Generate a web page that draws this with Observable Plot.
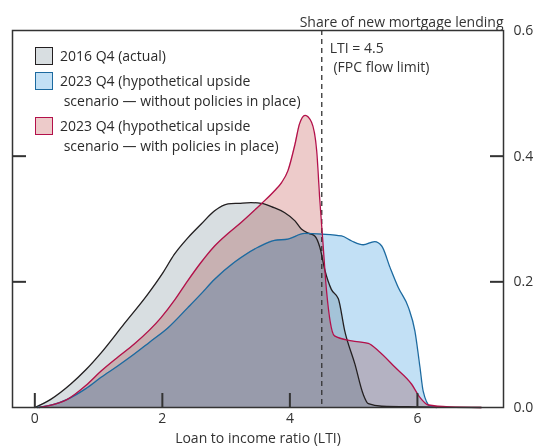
<!DOCTYPE html>
<html>
<head>
<meta charset="utf-8">
<script src="https://cdn.jsdelivr.net/npm/d3@7"></script>
<script src="https://cdn.jsdelivr.net/npm/@observablehq/plot@0.6"></script>
<style>
  html, body { margin: 0; padding: 0; background: #fff; }
  #wrap { position: relative; width: 534px; height: 448px; font-family: "Open Sans", sans-serif; color: #2a2a2a; }
  .leg { position: absolute; font-size: 14px; line-height: 19.5px; white-space: pre; }
  .sw { position: absolute; width: 16px; height: 16px; border: 1.5px solid; }
</style>
</head>
<body>
<div id="wrap"></div>
<script>
// ---- data ----
const yTitle = "Share of new mortgage lending";
const xTitle = "Loan to income ratio (LTI)";
const seriesNames = [
  "2016 Q4 (actual)",
  "2023 Q4 (hypothetical upside\n scenario \u2014 without policies in place)",
  "2023 Q4 (hypothetical upside\n scenario \u2014 with policies in place)"
];
const limitLTI = 4.5;
const limitLabel = "LTI = 4.5\n (FPC flow limit)";
const xTicks = [0, 2, 4, 6];
const yTicks = [0, 0.2, 0.4, 0.6];

const actualLTI   = [0, 0.25, 0.56, 0.8, 1.04, 1.4, 1.77, 2.0, 2.19, 2.4, 2.61, 2.82, 3.03, 3.2, 3.39, 3.55, 3.75, 3.92, 4.08, 4.18, 4.3, 4.39, 4.47, 4.55, 4.65, 4.76, 4.86, 5.02, 5.15, 5.23, 5.44, 6.0, 7.0];
const actualShare = [0, 0.013, 0.037, 0.06, 0.087, 0.133, 0.18, 0.213, 0.244, 0.27, 0.292, 0.313, 0.324, 0.325, 0.326, 0.325, 0.318, 0.31, 0.297, 0.284, 0.277, 0.273, 0.255, 0.218, 0.188, 0.173, 0.122, 0.069, 0.021, 0.006, 0.002, 0.001, 0];

const withoutLTI   = [0.04, 0.3, 0.51, 0.8, 1.04, 1.3, 1.56, 1.8, 2.09, 2.4, 2.6, 2.82, 3.13, 3.5, 3.76, 3.97, 4.23, 4.5, 4.81, 4.97, 5.15, 5.33, 5.44, 5.57, 5.7, 5.86, 5.96, 6.04, 6.09, 6.2, 6.3];
const withoutShare = [0, 0.005, 0.013, 0.03, 0.048, 0.066, 0.085, 0.104, 0.127, 0.159, 0.18, 0.204, 0.231, 0.255, 0.266, 0.268, 0.277, 0.276, 0.273, 0.265, 0.259, 0.264, 0.257, 0.223, 0.191, 0.159, 0.122, 0.064, 0.026, 0.002, 0];

const withLTI   = [0.07, 0.3, 0.51, 0.8, 1.04, 1.3, 1.56, 1.98, 2.2, 2.4, 2.6, 2.82, 3.03, 3.24, 3.55, 3.76, 3.87, 3.97, 4.08, 4.15, 4.24, 4.34, 4.42, 4.47, 4.52, 4.57, 4.63, 4.7, 4.97, 5.23, 5.39, 5.65, 5.91, 6.04, 6.17, 6.5, 7.0];
const withShare = [0, 0.005, 0.013, 0.035, 0.058, 0.08, 0.101, 0.143, 0.172, 0.202, 0.23, 0.257, 0.277, 0.295, 0.324, 0.345, 0.358, 0.377, 0.419, 0.451, 0.465, 0.454, 0.409, 0.329, 0.26, 0.191, 0.138, 0.114, 0.106, 0.102, 0.09, 0.064, 0.037, 0.016, 0.004, 0.001, 0];

const fills   = ["#d8dee1", "#c2e0f5", "#edcbca"];
const strokes = ["#231f20", "#1c6aa0", "#b3104a"];

// ---- build tables ----
const toRows = (xs, ys) => xs.map((x, i) => ({x, y: ys[i]}));
const actual  = toRows(actualLTI, actualShare);
const without = toRows(withoutLTI, withoutShare);
const withP   = toRows(withLTI, withShare);
const sets = [actual, without, withP];

const curve = "monotone-x";
const marks = [];
sets.forEach((d, i) => marks.push(Plot.areaY(d, {x: "x", y: "y", fill: fills[i], curve, mixBlendMode: "multiply"})));
marks.push(Plot.ruleX([limitLTI], {stroke: "#333", strokeWidth: 1.3, strokeDasharray: "5,4"}));
sets.forEach((d, i) => marks.push(Plot.lineY(d, {x: "x", y: "y", stroke: strokes[i], strokeWidth: 1.3, curve})));
marks.push(
  Plot.frame({stroke: "#333", strokeWidth: 1.5}),
  Plot.axisX(xTicks, {anchor: "bottom", tickSize: -14, strokeWidth: 2, tickFormat: () => "", label: null}),
  Plot.axisX(xTicks, {anchor: "bottom", tickSize: 0, tickPadding: 6, fontSize: 14, fill: "#333", label: null}),
  Plot.axisY([0.2, 0.4], {anchor: "left", tickSize: -14, strokeWidth: 2, tickFormat: () => "", label: null}),
  Plot.axisY([0.2, 0.4], {anchor: "right", tickSize: -14, strokeWidth: 2, tickFormat: () => "", label: null}),
  Plot.axisY(yTicks, {anchor: "right", tickSize: 0, tickPadding: 10, fontSize: 14, fill: "#333", tickFormat: d3.format(".1f"), label: null}),
  Plot.text([yTitle], {frameAnchor: "top-right", textAnchor: "end", dy: -13, fontSize: 14, fill: "#333"}),
  Plot.text([xTitle], {frameAnchor: "bottom", dy: 35, fontSize: 14, fill: "#333"}),
  Plot.text([limitLabel], {x: () => limitLTI, frameAnchor: "top", textAnchor: "start", lineAnchor: "top", dx: 8, dy: 9, fontSize: 14, lineHeight: 1.36, fill: "#333"})
);

const chart = Plot.plot({
  width: 534,
  height: 448,
  marginLeft: 12,
  marginRight: 31,
  marginTop: 30,
  marginBottom: 41,
  style: {fontFamily: "Open Sans, sans-serif", fontSize: "14px", color: "#333", background: "#fff"},
  x: {domain: [-0.35, 7.35], axis: null},
  y: {domain: [0, 0.6], axis: null},
  marks
});

const wrap = document.getElementById("wrap");
wrap.appendChild(chart);

// legend overlay
const legendTop = [47, 72, 117];
seriesNames.forEach((name, i) => {
  const sw = document.createElement("div");
  sw.className = "sw";
  sw.style.left = "35px";
  sw.style.top = legendTop[i] + "px";
  sw.style.background = fills[i];
  sw.style.borderColor = strokes[i];
  wrap.appendChild(sw);
  name.split("\n").forEach((ln, j) => {
    const t = document.createElement("div");
    t.className = "leg";
    t.style.left = "60px";
    t.style.top = (legendTop[i] - 1 + j * 19.5) + "px";
    t.textContent = ln;
    wrap.appendChild(t);
  });
});
</script>
</body>
</html>
